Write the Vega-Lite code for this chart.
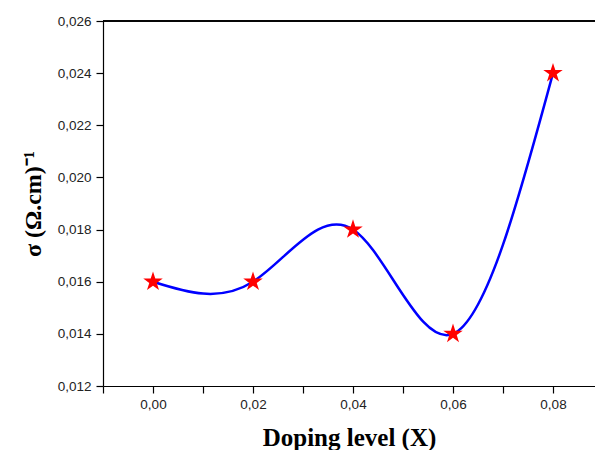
{
  "$schema": "https://vega.github.io/schema/vega-lite/v6.json",
  "autosize": "none",
  "width": 492,
  "height": 365,
  "padding": {"left": 103, "top": 21, "right": 0, "bottom": 64},
  "background": "white",
  "config": {
    "view": {"stroke": null},
    "axis": {
      "domainColor": "black",
      "domainWidth": 1.2,
      "tickColor": "black",
      "tickWidth": 1.2,
      "tickSize": 7,
      "grid": false,
      "labelFont": "Liberation Sans",
      "labelFontSize": 13.5,
      "labelColor": "#222",
      "titleFont": "Liberation Serif",
      "titleFontWeight": "bold",
      "titleFontSize": 24,
      "titleColor": "black"
    }
  },
  "data": {
    "values": [
      {"x": 0.00, "sigma": 0.016},
      {"x": 0.02, "sigma": 0.016},
      {"x": 0.04, "sigma": 0.018},
      {"x": 0.06, "sigma": 0.014},
      {"x": 0.08, "sigma": 0.024}
    ]
  },
  "layer": [
    {
      "mark": {"type": "rule", "color": "black", "strokeWidth": 1.2},
      "encoding": {"y": {"datum": 0.026, "type": "quantitative"}}
    },
    {
      "mark": {"type": "line", "interpolate": "natural", "color": "#0000ff", "strokeWidth": 2.5},
      "encoding": {
        "x": {
          "field": "x", "type": "quantitative",
          "scale": {"domain": [-0.01, 0.0884], "nice": false, "zero": false},
          "axis": {
            "title": "Doping level (X)",
            "titleFontSize": 25,
            "values": [-0.01, 0, 0.01, 0.02, 0.03, 0.04, 0.05, 0.06, 0.07, 0.08],
            "labelExpr": "round(datum.value*100)%2==0 ? replace(format(datum.value,'.2f'),'.',',') : ''",
            "encoding": {"ticks": {"update": {"y2": {"signal": "round(datum.value*100)%2==0 ? 7 : 4"}}}},
            "labelPadding": 4,
            "titlePadding": 15,
            "labelFlush": false
          }
        },
        "y": {
          "field": "sigma", "type": "quantitative",
          "scale": {"domain": [0.012, 0.026], "nice": false, "zero": false},
          "axis": {
            "title": "σ (Ω.cm)⁻¹",
            "values": [0.012, 0.013, 0.014, 0.015, 0.016, 0.017, 0.018, 0.019, 0.020, 0.021, 0.022, 0.023, 0.024, 0.025, 0.026],
            "labelExpr": "round(datum.value*1000)%2==0 ? replace(format(datum.value,'.3f'),'.',',') : ''",
            "encoding": {"ticks": {"update": {"x2": {"signal": "round(datum.value*1000)%2==0 ? -7 : -4"}}}},
            "labelPadding": 5,
            "titlePadding": 12,
            "labelFlush": false
          }
        }
      }
    },
    {
      "mark": {"type": "point", "shape": "M0,-1L0.2245,-0.309L0.9511,-0.309L0.3633,0.118L0.5878,0.809L0,0.382L-0.5878,0.809L-0.3633,0.118L-0.9511,-0.309L-0.2245,-0.309Z", "filled": true, "color": "#ff0000", "size": 420, "opacity": 1},
      "encoding": {
        "x": {"field": "x", "type": "quantitative"},
        "y": {"field": "sigma", "type": "quantitative"}
      }
    }
  ]
}
